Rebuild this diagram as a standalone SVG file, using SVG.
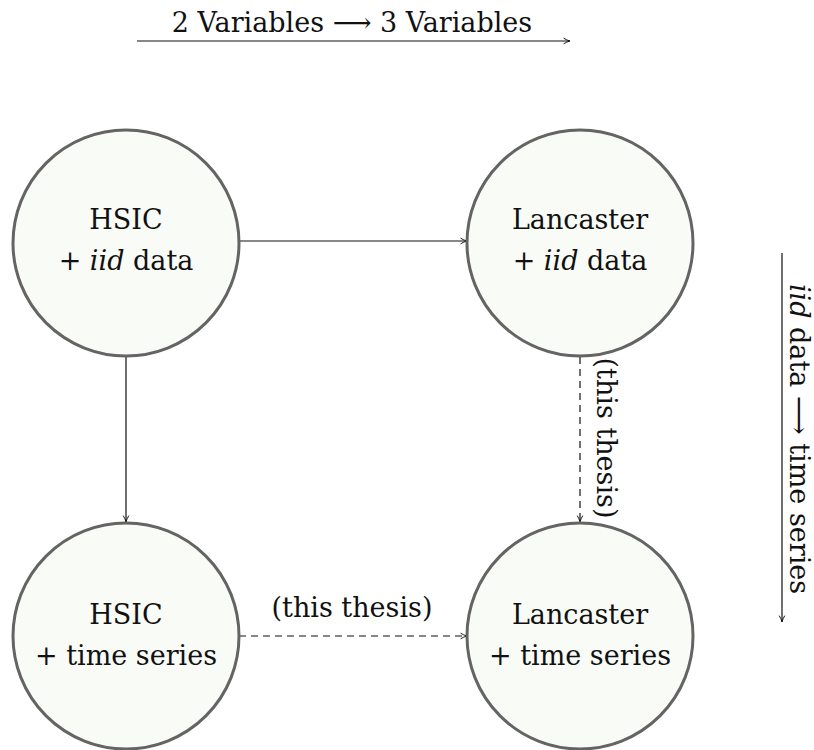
<svg xmlns="http://www.w3.org/2000/svg" width="814" height="750" viewBox="0 0 814 750">
<style>
.node{fill:#f9fbf7;stroke:#646464;stroke-width:3}
.t{font-family:'DejaVu Serif',serif;font-size:27px;fill:#111}
.c{stroke:#111;stroke-width:1.2;fill:none}
.d{stroke-dasharray:7,5}
</style>
<defs>
<marker id="ah" viewBox="0 0 10 10" refX="9" refY="5" markerWidth="8" markerHeight="8" markerUnits="userSpaceOnUse" orient="auto">
<path d="M1,1.5 Q5,4 9,5 Q5,6 1,8.5" fill="none" stroke="#111" stroke-width="1.2"/>
</marker>
</defs>
<g id="header">
<text class="t" x="352" y="32" text-anchor="middle">2 Variables ⟶ 3 Variables</text>
<line class="c" x1="137" y1="41" x2="570" y2="41" marker-end="url(#ah)"/>
</g>
<g id="side">
<line class="c" x1="782" y1="253" x2="782" y2="622" marker-end="url(#ah)"/>
<text class="t" transform="translate(790,439) rotate(90)" text-anchor="middle"><tspan font-style="italic">iid</tspan> data ⟶ time series</text>
</g>
<g id="connectors">
<line class="c" x1="239" y1="241" x2="467" y2="241" marker-end="url(#ah)"/>
<line class="c" x1="126" y1="357" x2="126" y2="522" marker-end="url(#ah)"/>
<line class="c d" x1="580" y1="357" x2="580" y2="522" marker-end="url(#ah)"/>
<line class="c d" x1="239" y1="636" x2="467" y2="636" marker-end="url(#ah)"/>
<text class="t" transform="translate(597,438) rotate(90)" text-anchor="middle">(this thesis)</text>
<text class="t" x="352" y="617" text-anchor="middle">(this thesis)</text>
</g>
<g id="n1">
<circle class="node" cx="126" cy="243" r="113"/>
<text class="t" x="126" y="229" text-anchor="middle">HSIC</text>
<text class="t" x="126" y="270" text-anchor="middle">+ <tspan font-style="italic">iid</tspan> data</text>
</g>
<g id="n2">
<circle class="node" cx="580" cy="243" r="113"/>
<text class="t" x="580" y="229" text-anchor="middle">Lancaster</text>
<text class="t" x="580" y="270" text-anchor="middle">+ <tspan font-style="italic">iid</tspan> data</text>
</g>
<g id="n3">
<circle class="node" cx="126" cy="636" r="113"/>
<text class="t" x="126" y="624" text-anchor="middle">HSIC</text>
<text class="t" x="126" y="665" text-anchor="middle">+ time series</text>
</g>
<g id="n4">
<circle class="node" cx="580" cy="636" r="113"/>
<text class="t" x="580" y="624" text-anchor="middle">Lancaster</text>
<text class="t" x="580" y="665" text-anchor="middle">+ time series</text>
</g>
</svg>
